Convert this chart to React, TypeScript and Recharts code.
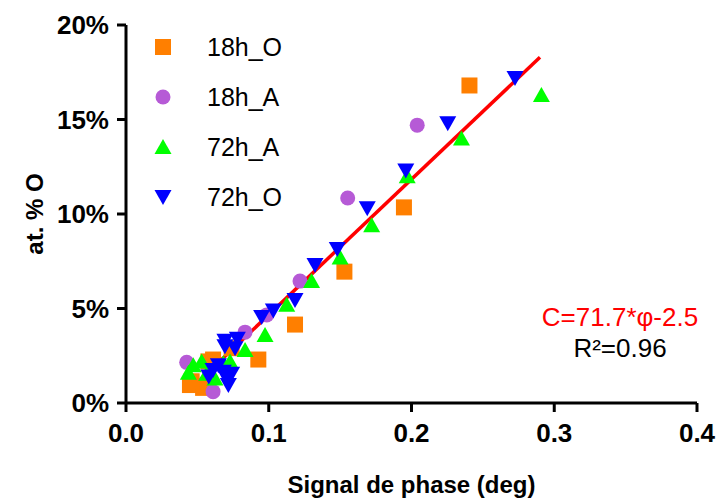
import React from "react";
import {
  ScatterChart,
  Scatter,
  XAxis,
  YAxis,
  ReferenceLine,
} from "recharts";

// ---- data (x: phase signal in deg, y: at. % O) ----
const s18hO = [
  { x: 0.0448, y: 0.95 },
  { x: 0.054, y: 0.8 },
  { x: 0.046, y: 1.15 },
  { x: 0.0577, y: 2.2 },
  { x: 0.061, y: 2.3 },
  { x: 0.074, y: 2.9 },
  { x: 0.0927, y: 2.3 },
  { x: 0.1184, y: 4.15 },
  { x: 0.153, y: 6.95 },
  { x: 0.1947, y: 10.35 },
  { x: 0.2406, y: 16.8 },
];
const s18hA = [
  { x: 0.0425, y: 2.15 },
  { x: 0.061, y: 0.6 },
  { x: 0.0834, y: 3.75 },
  { x: 0.0986, y: 4.66 },
  { x: 0.1219, y: 6.45 },
  { x: 0.1553, y: 10.85 },
  { x: 0.204, y: 14.7 },
];
const s72hA = [
  { x: 0.0437, y: 1.6 },
  { x: 0.0471, y: 2.0 },
  { x: 0.053, y: 2.2 },
  { x: 0.0565, y: 1.55 },
  { x: 0.0623, y: 1.3 },
  { x: 0.0682, y: 2.1 },
  { x: 0.0729, y: 2.2 },
  { x: 0.0834, y: 2.8 },
  { x: 0.0974, y: 3.6 },
  { x: 0.1126, y: 5.2 },
  { x: 0.13, y: 6.45 },
  { x: 0.15, y: 7.7 },
  { x: 0.1721, y: 9.4 },
  { x: 0.197, y: 12.0 },
  { x: 0.235, y: 14.0 },
  { x: 0.291, y: 16.3 },
];
const s72hO = [
  { x: 0.058, y: 1.4 },
  { x: 0.061, y: 1.75 },
  { x: 0.0647, y: 2.0 },
  { x: 0.0682, y: 1.65 },
  { x: 0.0705, y: 1.3 },
  { x: 0.0717, y: 0.95 },
  { x: 0.074, y: 1.55 },
  { x: 0.0693, y: 3.0 },
  { x: 0.0764, y: 2.9 },
  { x: 0.0693, y: 3.3 },
  { x: 0.078, y: 3.4 },
  { x: 0.095, y: 4.55 },
  { x: 0.1032, y: 4.9 },
  { x: 0.1184, y: 5.45 },
  { x: 0.1324, y: 7.3 },
  { x: 0.148, y: 8.15 },
  { x: 0.169, y: 10.3 },
  { x: 0.196, y: 12.3 },
  { x: 0.2254, y: 14.8 },
  { x: 0.2725, y: 17.2 },
];

const seriesNames = ["18h_O", "18h_A", "72h_A", "72h_O"];
const seriesColors = ["#FF7F00", "#B65AD6", "#00FF00", "#0000FF"];
const seriesShapes = ["square", "circle", "up", "down"];

const xTicks = [0, 0.1, 0.2, 0.3, 0.4];
const yTicks = [0, 5, 10, 15, 20];

// linear fit C = slope * phi + intercept
const fitSlope = 71.7;
const fitIntercept = -2.5;
const fitRange = [0.0437, 0.29];
const fitLabel = "C=71.7*φ-2.5";
const r2Label = "R²=0.96";

const FONT = "'Liberation Sans', Arial, Helvetica, sans-serif";

function Marker({ kind, cx, cy, fill }: any) {
  if (cx == null || cy == null) return null;
  const s = 8;
  if (kind === "square")
    return <rect x={cx - s} y={cy - s} width={2 * s} height={2 * s} fill={fill} />;
  if (kind === "circle") return <circle cx={cx} cy={cy} r={7.5} fill={fill} />;
  if (kind === "up")
    return (
      <polygon
        points={`${cx},${cy - 8} ${cx - 8.5},${cy + 7} ${cx + 8.5},${cy + 7}`}
        fill={fill}
      />
    );
  return (
    <polygon
      points={`${cx},${cy + 8} ${cx - 8.5},${cy - 7} ${cx + 8.5},${cy - 7}`}
      fill={fill}
    />
  );
}

const LegendBox = () => (
  <svg width={300} height={230} style={{ position: "absolute", left: 0, top: 0 }}>
    {seriesNames.map((n, i) => {
      const cy = 47 + i * 50;
      return (
        <g key={n}>
          <Marker kind={seriesShapes[i]} cx={163} cy={cy} fill={seriesColors[i]} />
          <text x={207} y={cy + 9} fontSize={25} fontFamily={FONT} fill="#000">
            {n}
          </text>
        </g>
      );
    })}
  </svg>
);

export default function App() {
  const allSeries = [s18hO, s18hA, s72hA, s72hO];
  return (
    <div style={{ position: "absolute", left: 0, top: 0, width: 717, height: 499, background: "#fff" }}>
      <ScatterChart
        width={717}
        height={499}
        margin={{ top: 25, right: 20, bottom: 0, left: 0 }}
      >
        <XAxis
          type="number"
          dataKey="x"
          domain={[0, 0.4]}
          ticks={xTicks}
          tickFormatter={(v: number) => v.toFixed(1)}
          height={96}
          axisLine={{ stroke: "#000", strokeWidth: 3 }}
          tickLine={{ stroke: "#000", strokeWidth: 3 }}
          tickSize={9}
          tickMargin={12}
          tick={{ fontSize: 26, fontWeight: "bold", fill: "#000", fontFamily: FONT }}
          label={(p: any) => {
            const vb = p.viewBox;
            return (
              <text
                x={vb.x + vb.width / 2}
                y={vb.y + 90}
                textAnchor="middle"
                fontSize={24}
                fontWeight="bold"
                fontFamily={FONT}
                fill="#000"
              >
                Signal de phase (deg)
              </text>
            );
          }}
        />
        <YAxis
          type="number"
          dataKey="y"
          domain={[0, 20]}
          ticks={yTicks}
          tickFormatter={(v: number) => `${v}%`}
          width={126}
          axisLine={{ stroke: "#000", strokeWidth: 3 }}
          tickLine={{ stroke: "#000", strokeWidth: 3 }}
          tickSize={9}
          tickMargin={8}
          tick={{ fontSize: 26, fontWeight: "bold", fill: "#000", fontFamily: FONT }}
          label={(p: any) => {
            const vb = p.viewBox;
            const cx = 34;
            const cy = vb.y + vb.height / 2;
            return (
              <text
                x={cx}
                y={cy}
                transform={`rotate(-90, ${cx}, ${cy})`}
                textAnchor="middle"
                dominantBaseline="central"
                fontSize={24}
                fontWeight="bold"
                fontFamily={FONT}
                fill="#000"
              >
                at. % O
              </text>
            );
          }}
        />
        {allSeries.map((d, i) => (
          <Scatter
            key={seriesNames[i]}
            name={seriesNames[i]}
            data={d}
            fill={seriesColors[i]}
            isAnimationActive={false}
            shape={(props: any) => (
              <Marker kind={seriesShapes[i]} cx={props.cx} cy={props.cy} fill={seriesColors[i]} />
            )}
          />
        ))}
        <ReferenceLine
          segment={[
            { x: fitRange[0], y: fitSlope * fitRange[0] + fitIntercept },
            { x: fitRange[1], y: fitSlope * fitRange[1] + fitIntercept },
          ]}
          stroke="#FF0000"
          strokeWidth={3.5}
          ifOverflow="visible"
        />
      </ScatterChart>
      <LegendBox />
      <div
        style={{
          position: "absolute",
          left: 520,
          top: 302,
          width: 200,
          textAlign: "center",
          fontFamily: FONT,
          fontSize: 26,
          lineHeight: "31px",
        }}
      >
        <div style={{ color: "#FF0000" }}>{fitLabel}</div>
        <div style={{ color: "#000" }}>{r2Label}</div>
      </div>
    </div>
  );
}
